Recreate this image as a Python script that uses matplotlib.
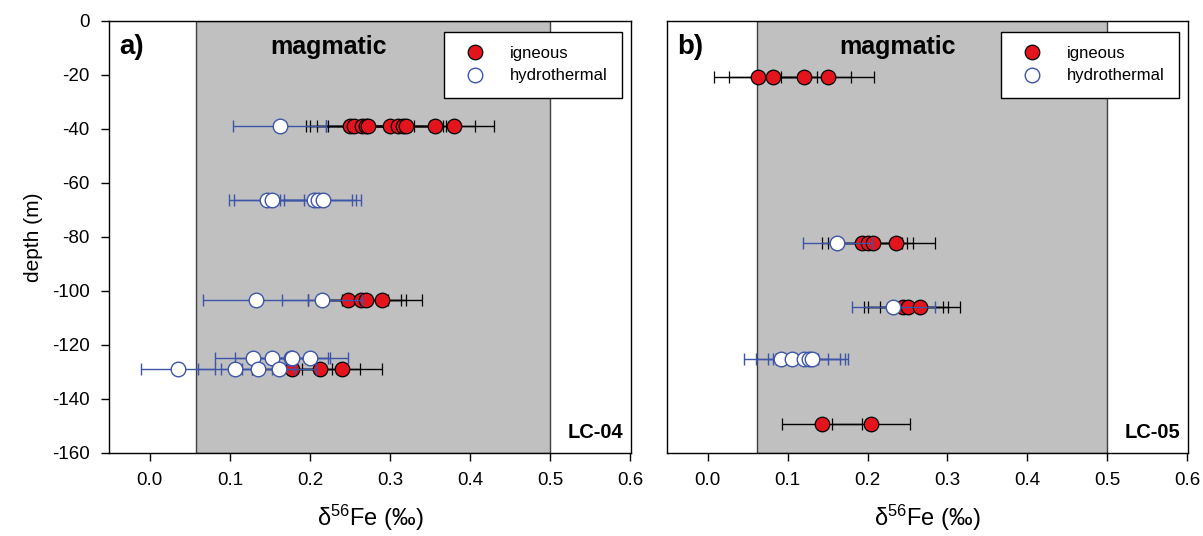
import matplotlib
matplotlib.use("Agg")
import matplotlib.pyplot as plt
from matplotlib.lines import Line2D

plt.rcParams['font.family'] = ['Liberation Sans', 'DejaVu Sans']
plt.rcParams['mathtext.fontset'] = 'custom'
plt.rcParams['mathtext.rm'] = 'Liberation Sans'
plt.rcParams['mathtext.it'] = 'Liberation Sans'
plt.rcParams['axes.unicode_minus'] = False

# LC-04: igneous samples (depth m, d56Fe permil, 2sd)
a_ign_depth = [-39, -39, -39, -39, -39, -39, -39, -39, -39, -39, -39,
               -103.3, -103.3, -103.3, -103.3, -128.9, -128.9, -128.9]
a_ign_val = [0.250, 0.255, 0.265, 0.270, 0.273, 0.300, 0.310, 0.316, 0.320, 0.356, 0.380,
             0.247, 0.264, 0.270, 0.290, 0.177, 0.212, 0.240]
a_ign_err = [0.055, 0.055, 0.056, 0.05, 0.05, 0.05, 0.05, 0.05, 0.05, 0.05, 0.05,
             0.05, 0.05, 0.05, 0.05, 0.05, 0.05, 0.05]

# LC-04: hydrothermal samples
a_hyd_depth = [-39, -66.5, -66.5, -66.5, -66.5, -66.5, -103.3, -103.3,
               -124.7, -124.7, -124.7, -124.7, -124.7, -128.9, -128.9, -128.9, -128.9]
a_hyd_val = [0.162, 0.146, 0.152, 0.205, 0.210, 0.216, 0.132, 0.215,
             0.129, 0.153, 0.176, 0.178, 0.200, 0.035, 0.106, 0.135, 0.161]
a_hyd_err = [0.058, 0.047, 0.047, 0.048, 0.048, 0.048, 0.066, 0.05,
             0.047, 0.047, 0.047, 0.047, 0.048, 0.046, 0.046, 0.046, 0.046]

# LC-05: igneous samples
b_ign_depth = [-20.6, -20.6, -20.6, -20.6, -82.2, -82.2, -82.2, -82.2,
               -105.8, -105.8, -105.8, -149.3, -149.3]
b_ign_val = [0.063, 0.082, 0.121, 0.150, 0.193, 0.200, 0.207, 0.236,
             0.245, 0.251, 0.266, 0.143, 0.204]
b_ign_err = [0.055, 0.055, 0.058, 0.058, 0.05, 0.05, 0.05, 0.048,
             0.05, 0.05, 0.05, 0.05, 0.049]

# LC-05: hydrothermal samples
b_hyd_depth = [-82.2, -105.8, -125.2, -125.2, -125.2, -125.2, -125.2]
b_hyd_val = [0.162, 0.232, 0.092, 0.105, 0.120, 0.127, 0.131]
b_hyd_err = [0.043, 0.052, 0.046, 0.045, 0.045, 0.045, 0.045]

# magmatic range shaded on each panel
magmatic_a = (0.058, 0.5)
magmatic_b = (0.062, 0.5)

RED = '#e3141c'
BLUE = '#3d55a8'
MS = 10.5

fig = plt.figure(figsize=(12.03, 5.36), dpi=100)
ax_a = fig.add_axes([0.0906, 0.155, 0.434, 0.806])
ax_b = fig.add_axes([0.5544, 0.155, 0.4331, 0.806])


def draw_panel(ax, ign, hyd, span, letter, well, mag_x):
    ax.axvspan(span[0], span[1], facecolor='#c0c0c0', edgecolor='#404040',
               linewidth=1.0, zorder=0)
    ax.errorbar(ign[1], ign[0], xerr=ign[2], fmt='o', color='black',
                markerfacecolor=RED, markeredgecolor='black', markeredgewidth=0.9,
                markersize=MS, ecolor='black', elinewidth=1.0, capsize=4.5,
                capthick=1.0, zorder=3)
    ax.errorbar(hyd[1], hyd[0], xerr=hyd[2], fmt='o', color=BLUE,
                markerfacecolor='white', markeredgecolor=BLUE, markeredgewidth=1.0,
                markersize=MS, ecolor=BLUE, elinewidth=1.0, capsize=4.5,
                capthick=1.0, zorder=4)
    ax.set_xlim(-0.051, 0.601)
    ax.set_ylim(-160, 0)
    ax.set_xticks([0.0, 0.1, 0.2, 0.3, 0.4, 0.5, 0.6])
    ax.set_xticklabels(['0.0', '0.1', '0.2', '0.3', '0.4', '0.5', '0.6'])
    ax.tick_params(axis='both', direction='out', length=6, width=1,
                   labelsize=13.5, pad=8)
    ax.set_xlabel('δ$^{56}$Fe (‰)', fontsize=17, labelpad=10)
    for s in ax.spines.values():
        s.set_linewidth(1.0)
    ax.text(0.02, 0.94, letter, transform=ax.transAxes, fontsize=20,
            fontweight='bold', va='center', ha='left')
    ax.text(mag_x, -9.5, 'magmatic', fontsize=18, fontweight='bold',
            ha='center', va='center')
    ax.text(0.985, 0.048, well, transform=ax.transAxes, fontsize=14.5,
            fontweight='bold', ha='right', va='center')
    handles = [
        Line2D([], [], linestyle='none', marker='o', markersize=MS,
               markerfacecolor=RED, markeredgecolor='black', markeredgewidth=0.9),
        Line2D([], [], linestyle='none', marker='o', markersize=MS,
               markerfacecolor='white', markeredgecolor=BLUE, markeredgewidth=1.0),
    ]
    leg = ax.legend(handles, ['igneous', 'hydrothermal'], loc='upper right',
                    bbox_to_anchor=(0.982, 0.975), fontsize=12, frameon=True,
                    fancybox=False, edgecolor='black', framealpha=1,
                    handletextpad=1.1, borderpad=0.85, labelspacing=0.45,
                    borderaxespad=0)
    leg.get_frame().set_linewidth(1.0)


draw_panel(ax_a, (a_ign_depth, a_ign_val, a_ign_err),
           (a_hyd_depth, a_hyd_val, a_hyd_err), magmatic_a, 'a)', 'LC-04', 0.2225)
draw_panel(ax_b, (b_ign_depth, b_ign_val, b_ign_err),
           (b_hyd_depth, b_hyd_val, b_hyd_err), magmatic_b, 'b)', 'LC-05', 0.2375)

ax_a.set_yticks(range(-160, 1, 20))
ax_a.set_ylabel('depth (m)', fontsize=15, labelpad=6)
ax_b.set_yticks([])

fig.savefig('out.png', dpi=100)
